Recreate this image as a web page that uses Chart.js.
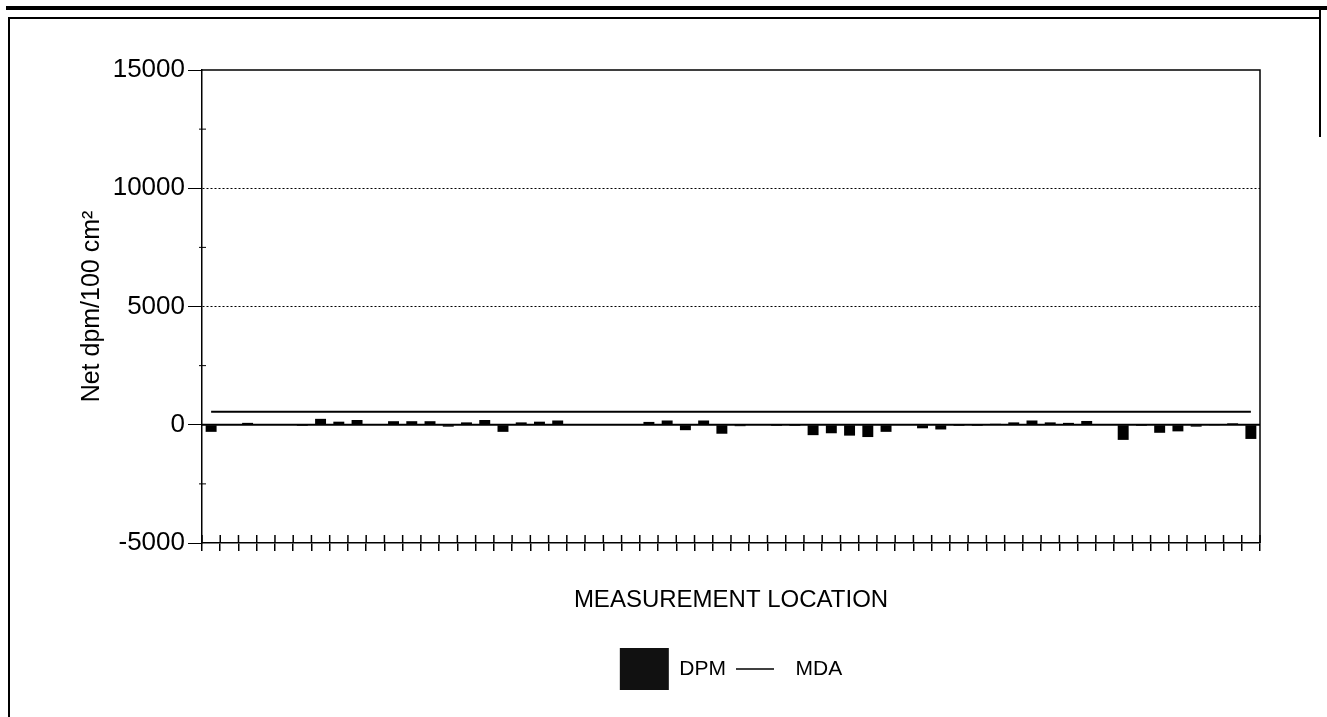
<!DOCTYPE html>
<html>
<head>
<meta charset="utf-8">
<script src="https://cdn.jsdelivr.net/npm/chart.js@4.4.1/dist/chart.umd.min.js"></script>
<style>
  body { margin: 0; background: #fff; }
  #wrap { position: relative; width: 1327px; height: 717px; overflow: hidden; }
  .rule { position: absolute; background: #000; }
  canvas { position: absolute; left: 0; top: 0; }
</style>
</head>
<body>
<div id="wrap">
  <div class="rule" style="left:6px; top:6px; width:1321px; height:4px;"></div>
  <div class="rule" style="left:8px; top:17px; width:1313px; height:2px;"></div>
  <div class="rule" style="left:8px; top:17px; width:2px; height:700px;"></div>
  <div class="rule" style="left:1319px; top:9px; width:2px; height:128px;"></div>
  <canvas id="graphDpm" width="1327" height="717"></canvas>
</div>
<script>
// measurement locations 1..58
const locations = [];
for (let i = 1; i <= 58; i++) locations.push(String(i));

// net dpm/100 cm2
const dpm = [
  -300, 20, 80, 0, 0, -50, 250, 130, 200, 0,
  150, 150, 150, -80, 100, 200, -300, 100, 130, 180,
  0, 0, 0, 0, 120, 180, -230, 180, -380, -60,
  0, -50, -50, -440, -360, -460, -520, -300, 0, -150,
  -200, -50, -50, 40, 100, 180, 100, 80, 160, 30,
  -640, -50, -340, -280, -80, -30, 60, -600
];

// minimum detectable activity
const mda = locations.map(() => 550);

const yTicks = [-5000, 0, 5000, 10000, 15000];

const frame = {
  id: 'frame',
  afterDatasetsDraw(chart) {
    const ctx = chart.ctx;
    const a = chart.chartArea;
    const y = chart.scales.y;
    const x = chart.scales.x;
    ctx.save();
    ctx.strokeStyle = '#000';
    // zero line
    ctx.lineWidth = 2;
    const y0 = y.getPixelForValue(0);
    ctx.beginPath();
    ctx.moveTo(a.left, y0);
    ctx.lineTo(a.right, y0);
    ctx.stroke();
    // top and right border
    ctx.lineWidth = 1.5;
    ctx.beginPath();
    ctx.moveTo(a.left, a.top);
    ctx.lineTo(a.right, a.top);
    ctx.lineTo(a.right, a.bottom);
    ctx.stroke();
    // minor ticks on value axis
    ctx.lineWidth = 1;
    for (let v = -2500; v < 15000; v += 5000) {
      const py = y.getPixelForValue(v);
      ctx.beginPath();
      ctx.moveTo(a.left - 3, py);
      ctx.lineTo(a.left + 4, py);
      ctx.stroke();
    }
    // inner half of the category ticks
    ctx.lineWidth = 1.5;
    const w = x.width / locations.length;
    for (let i = 0; i <= locations.length; i++) {
      const px = a.left + i * w;
      ctx.beginPath();
      ctx.moveTo(px, a.bottom - 8);
      ctx.lineTo(px, a.bottom);
      ctx.stroke();
    }
    ctx.restore();
  },
  afterDraw(chart) {
    // line symbol for MDA in the legend
    const legend = chart.legend;
    if (!legend || !legend.legendHitBoxes) return;
    const box = legend.legendHitBoxes[1];
    const ctx = chart.ctx;
    ctx.save();
    ctx.strokeStyle = '#000';
    ctx.lineWidth = 1.5;
    const cy = box.top + box.height / 2;
    ctx.beginPath();
    ctx.moveTo(box.left, cy);
    ctx.lineTo(box.left + 38, cy);
    ctx.stroke();
    ctx.restore();
  }
};

const ctx = document.getElementById('graphDpm');
const chartDpm = new Chart(ctx, {
  data: {
    labels: locations,
    datasets: [
      {
        type: 'line',
        label: 'MDA',
        data: mda,
        borderColor: '#000',
        borderWidth: 2,
        pointRadius: 0,
        fill: false,
        tension: 0
      },
      {
        type: 'bar',
        label: 'DPM',
        data: dpm,
        backgroundColor: '#000',
        borderWidth: 0,
        barPercentage: 0.6,
        categoryPercentage: 1.0
      }
    ]
  },
  plugins: [frame],
  options: {
    responsive: false,
    animation: false,
    layout: { padding: { left: 75, right: 67, top: 70, bottom: 17 } },
    plugins: {
      tooltip: { enabled: false },
      legend: {
        position: 'bottom',
        fullSize: false,
        reverse: true,
        labels: {
          color: '#000',
          font: { family: 'Liberation Sans, Arial, sans-serif', size: 21 },
          boxWidth: 49,
          boxHeight: 42,
          padding: 10,
          generateLabels(chart) {
            return chart.data.datasets.map((ds, i) => ({
              text: ds.label,
              datasetIndex: i,
              fillStyle: ds.type === 'bar' ? '#111' : 'rgba(0,0,0,0)',
              strokeStyle: 'rgba(0,0,0,0)',
              lineWidth: 0,
              fontColor: '#000',
              hidden: false
            }));
          }
        }
      }
    },
    scales: {
      x: {
        type: 'category',
        offset: true,
        afterFit(scale) { scale.height = 95; },
        grid: {
          offset: true,
          drawOnChartArea: false,
          drawTicks: true,
          tickLength: 8,
          color: '#000',
          lineWidth: 1.5
        },
        border: { color: '#000', width: 1.5 },
        ticks: { autoSkip: false, callback: () => '', padding: 0 },
        title: {
          display: true,
          text: 'MEASUREMENT LOCATION',
          color: '#000',
          font: { family: 'Liberation Sans, Arial, sans-serif', size: 24 },
          padding: { top: 0, bottom: 23 }
        }
      },
      y: {
        min: -5000,
        max: 15000,
        afterFit(scale) { scale.width = 127; },
        afterBuildTicks(scale) {
          scale.ticks = yTicks.map(v => ({ value: v }));
        },
        grid: {
          color: c => (c.tick && (c.tick.value === 5000 || c.tick.value === 10000)) ? '#000' : 'rgba(0,0,0,0)',
          tickColor: '#000',
          lineWidth: 1,
          tickLength: 14,
          drawTicks: true
        },
        border: { color: '#000', width: 1.5, dash: [2, 2] },
        ticks: {
          color: '#000',
          padding: 3,
          font: { family: 'Liberation Sans, Arial, sans-serif', size: 26 },
          callback: v => String(v)
        },
        title: {
          display: true,
          text: 'Net dpm/100 cm²',
          color: '#000',
          font: { family: 'Liberation Sans, Arial, sans-serif', size: 25 },
          padding: { top: 2, bottom: 0 }
        }
      }
    }
  }
});
</script>
</body>
</html>
